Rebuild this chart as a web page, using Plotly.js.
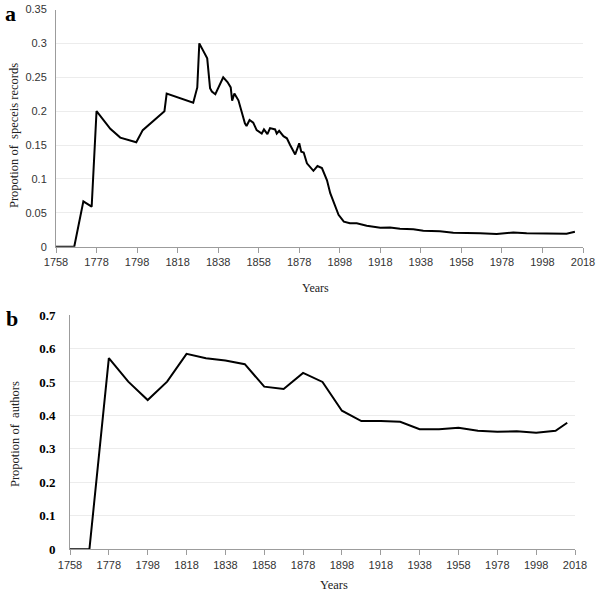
<!DOCTYPE html>
<html>
<head>
<meta charset="utf-8">
<script src="https://cdn.plot.ly/plotly-3.0.1.min.js"></script>
<style>html,body{margin:0;padding:0;background:#fff;}#chart{width:600px;height:595px;}</style>
</head>
<body>
<div id="chart"></div>
<script>
// Panel a: proportion of species records by year
const yearsA = [1758,1767,1771.5,1775.6,1778,1784.8,1789.7,1797.6,1800.8,1811.5,1812.6,1825.7,1827.7,1828.7,1832.6,1834,1834.9,1836.6,1840.5,1842.6,1844.2,1844.9,1846,1848,1851.2,1852,1853.5,1855.3,1857,1859.5,1860.6,1862.3,1863.6,1866.1,1866.9,1868.1,1870.2,1871.9,1873.5,1876,1878,1879,1880.2,1881.8,1885,1887,1889.2,1891.7,1893.3,1894.9,1897.4,1900,1903,1906.4,1911.3,1918,1922.8,1927.7,1934.3,1939.2,1947.4,1954,1960.6,1967.2,1975.4,1983.6,1990.2,2000,2009.9,2014];
const valuesA = [0,0,0.067,0.059,0.200,0.174,0.161,0.154,0.172,0.200,0.226,0.2125,0.235,0.300,0.278,0.234,0.229,0.225,0.250,0.243,0.235,0.2155,0.226,0.216,0.182,0.178,0.187,0.183,0.172,0.167,0.173,0.166,0.175,0.173,0.167,0.171,0.163,0.160,0.150,0.136,0.1525,0.140,0.139,0.123,0.112,0.119,0.116,0.098,0.079,0.066,0.047,0.037,0.0345,0.0345,0.031,0.028,0.0285,0.0266,0.0256,0.0236,0.0227,0.0207,0.0207,0.0197,0.0187,0.021,0.0197,0.019,0.019,0.022];

// Panel b: proportion of authors by decade
const yearsB = [1758,1768,1778,1788,1798,1808,1818,1828,1838,1848,1858,1868,1878,1888,1898,1908,1918,1928,1938,1948,1958,1968,1978,1988,1998,2008,2014];
const valuesB = [0,0,0.571,0.501,0.446,0.501,0.584,0.571,0.564,0.553,0.486,0.479,0.527,0.500,0.414,0.383,0.383,0.381,0.359,0.359,0.363,0.354,0.351,0.353,0.348,0.354,0.378];

const xTicks = [1758,1778,1798,1818,1838,1858,1878,1898,1918,1938,1958,1978,1998,2018];
const yTicksA = [0,0.05,0.1,0.15,0.2,0.25,0.3,0.35];
const yTickTextA = ["0","0.05","0.1","0.15","0.2","0.25","0.3","0.35"];
const yTicksB = [0,0.1,0.2,0.3,0.4,0.5,0.6,0.7];
const yTickTextB = ["0","0.1","0.2","0.3","0.4","0.5","0.6","0.7"];

const W = 600, H = 595;
const px = v => v / W;
const py = v => (H - v) / H;

const axisGray = '#9c9c9c';
const gridGray = '#ececec';
const sansTick = {family: 'Liberation Sans, Arial, sans-serif', size: 11, color: '#333'};
const serif = 'Liberation Serif, Times New Roman, serif';

const traces = [
  {x: yearsA, y: valuesA, type: 'scatter', mode: 'lines', line: {color: '#000', width: 2}, xaxis: 'x', yaxis: 'y', hoverinfo: 'x+y'},
  {x: yearsB, y: valuesB, type: 'scatter', mode: 'lines', line: {color: '#000', width: 2}, xaxis: 'x2', yaxis: 'y2', hoverinfo: 'x+y'}
];

const xCommon = {
  range: [1758, 2018], tickmode: 'array', tickvals: xTicks, ticktext: xTicks.map(String),
  showline: true, linecolor: axisGray, linewidth: 1, ticks: 'outside', ticklen: 5, tickcolor: axisGray,
  showgrid: false, zeroline: false, tickfont: sansTick, fixedrange: true
};

const layout = {
  width: W, height: H,
  margin: {l: 0, r: 0, t: 0, b: 0},
  paper_bgcolor: '#fff', plot_bgcolor: '#fff',
  showlegend: false,
  xaxis: Object.assign({}, xCommon, {domain: [px(56), px(583)], anchor: 'y'}),
  yaxis: {
    domain: [py(246.7), py(9.5)], anchor: 'x', range: [0, 0.35],
    tickmode: 'array', tickvals: yTicksA, ticktext: yTickTextA,
    showline: true, linecolor: axisGray, ticks: '', showgrid: true, gridcolor: gridGray, gridwidth: 1,
    zeroline: false, tickfont: sansTick, ticklabelstandoff: 6, fixedrange: true
  },
  xaxis2: Object.assign({}, xCommon, {domain: [px(70), px(575)], anchor: 'y2'}),
  yaxis2: {
    domain: [py(549.3), py(315)], anchor: 'x2', range: [0, 0.7],
    tickmode: 'array', tickvals: yTicksB, ticktext: yTickTextB,
    showline: true, linecolor: axisGray, ticks: '', showgrid: true, gridcolor: gridGray, gridwidth: 1,
    zeroline: false, tickfont: {family: serif, size: 13, color: '#000', weight: 'bold'}, ticklabelstandoff: 11, fixedrange: true
  },
  annotations: [
    {text: '<b>a</b>', xref: 'paper', yref: 'paper', x: px(10), y: py(13), xanchor: 'center', yanchor: 'middle', showarrow: false, font: {family: serif, size: 22, color: '#000'}},
    {text: '<b>b</b>', xref: 'paper', yref: 'paper', x: px(12), y: py(318), xanchor: 'center', yanchor: 'middle', showarrow: false, font: {family: serif, size: 22, color: '#000'}},
    {text: 'Propotion of\u00a0 speceis records', xref: 'paper', yref: 'paper', x: px(14), y: py(136), xanchor: 'center', yanchor: 'middle', textangle: -90, showarrow: false, font: {family: serif, size: 12.5, color: '#222'}},
    {text: 'Propotion of\u00a0 authors', xref: 'paper', yref: 'paper', x: px(15), y: py(434), xanchor: 'center', yanchor: 'middle', textangle: -90, showarrow: false, font: {family: serif, size: 12.5, color: '#222'}},
    {text: 'Years', xref: 'paper', yref: 'paper', x: px(316), y: py(288), xanchor: 'center', yanchor: 'middle', showarrow: false, font: {family: serif, size: 12, color: '#222'}},
    {text: 'Years', xref: 'paper', yref: 'paper', x: px(334), y: py(585), xanchor: 'center', yanchor: 'middle', showarrow: false, font: {family: serif, size: 12.5, color: '#222'}}
  ]
};

Plotly.newPlot('chart', traces, layout, {displayModeBar: false, staticPlot: true});
</script>
</body>
</html>
